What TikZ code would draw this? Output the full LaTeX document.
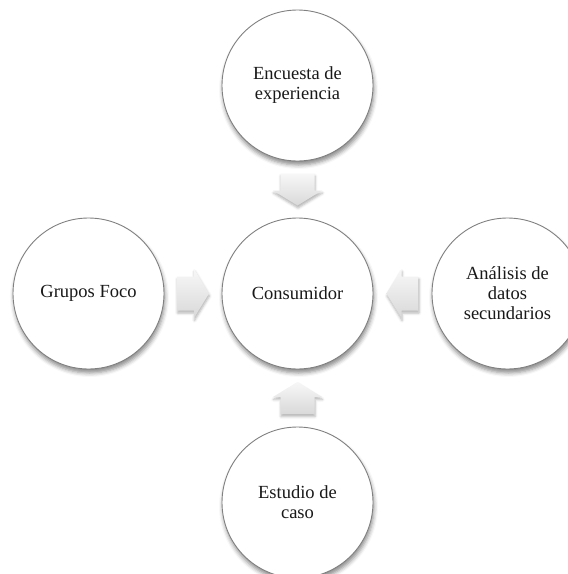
\documentclass[tikz,border=0pt]{standalone}
\usepackage{fontspec}
\setmainfont{Liberation Serif}
\usetikzlibrary{shadows.blur,calc}
\begin{document}
\begin{tikzpicture}[x=1pt,y=-1pt,
  bubble/.style={circle, draw=black!50, line width=0.9pt, fill=white,
    minimum size=151pt, inner sep=0pt, align=center,
    font=\fontsize{18.5}{20}\selectfont, text=black!90,
    blur shadow={shadow xshift=1pt, shadow yshift=-4pt,
      shadow blur radius=4pt, shadow opacity=45}},
  arrowfill/.style={draw=none, top color=black!3, bottom color=black!15,
    blur shadow={shadow xshift=0.5pt, shadow yshift=-2.5pt,
      shadow blur radius=2.5pt, shadow opacity=30}},
  % block arrow pointing along +x, 32pt long, centred on the pic origin
  blockarrow/.pic={
    \path[arrowfill] (-16,-17) -- (1,-17) -- (1,-24.5) -- (16,0)
      -- (1,24.5) -- (1,17) -- (-16,17) -- cycle;
  }
]
\useasboundingbox (0,0) rectangle (568,574);
\begin{scope}
\clip (0,0) rectangle (568,574);

% the five circles
\node[bubble] (cons)   at (297.5,293.5) {Consumidor};
\node[bubble] (top)    at (297.5,85.5)  {Encuesta de\\experiencia};
\node[bubble] (left)   at (88.5,293.5)  {Grupos Foco};
\node[bubble] (right)  at (507.5,293.5) {Análisis de\\datos\\secundarios};
\node[bubble] (bottom) at (297.5,502.5) {Estudio de\\caso};

% block arrows pointing at the central circle (y axis runs downwards)
\pic[rotate=270] (atop)    at ($(top)!0.5!(cons)$)    {blockarrow};
\pic[rotate=0]   (aleft)   at ($(left)!0.5!(cons)$)   {blockarrow};
\pic[rotate=180] (aright)  at ($(right)!0.5!(cons)$)  {blockarrow};
\pic[rotate=90]  (abottom) at ($(bottom)!0.5!(cons)$) {blockarrow};
\end{scope}
\end{tikzpicture}
\end{document}
